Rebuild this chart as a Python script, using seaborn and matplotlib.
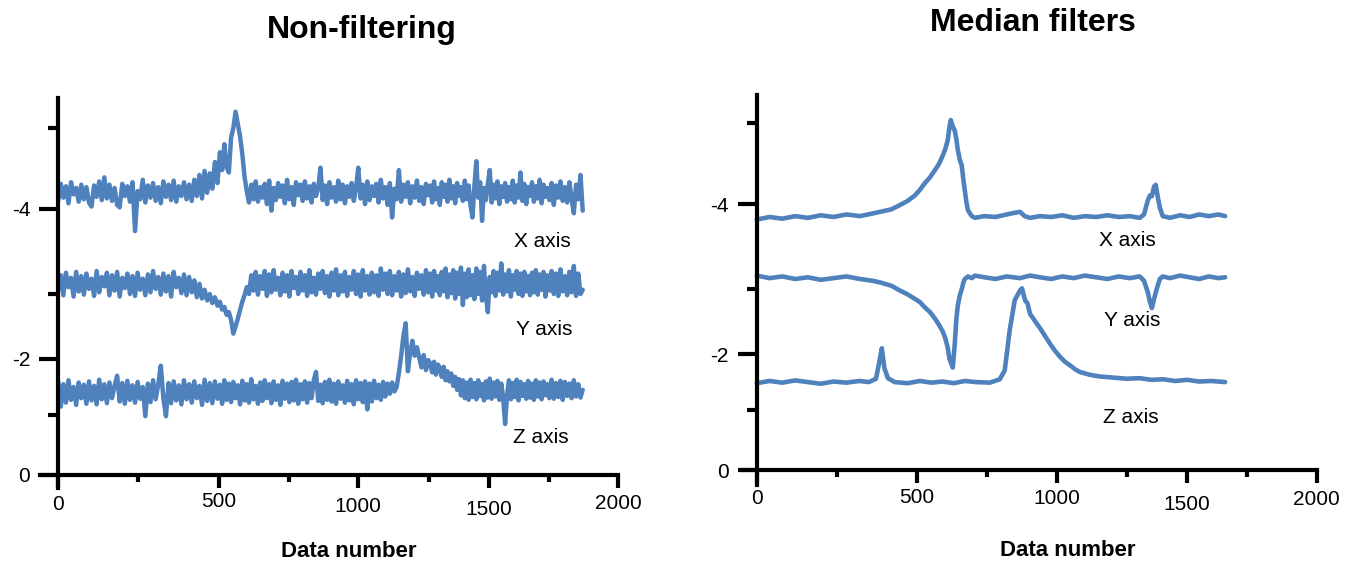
import numpy as np
import matplotlib
matplotlib.use("Agg")
import matplotlib.pyplot as plt
import matplotlib.transforms as mtransforms
import seaborn as sns

sns.set_style("ticks")
plt.rcParams['font.family'] = ['Liberation Sans', 'DejaVu Sans']
plt.rcParams.update({'text.color': 'black', 'axes.labelcolor': 'black',
                     'xtick.color': 'black', 'ytick.color': 'black',
                     'axes.edgecolor': 'black'})

BLUE = '#4F81BD'

# ---------------- Non-filtering: one sample every 8 data numbers
step_raw = 8
raw_x = [-4.10, -4.31, -4.14, -4.28, -4.07, -4.33, -4.18, -4.26, -4.09, -4.30,
         -4.12, -4.27, -4.08, -4.03, -4.29, -4.15, -4.34, -4.11, -4.39, -4.13,
         -4.30, -4.10, -4.26, -4.05, -4.02, -4.31, -4.16, -4.28, -4.09, -4.33,
         -3.74, -4.22, -4.12, -4.36, -4.08, -4.29, -4.14, -4.32, -4.10, -4.27,
         -4.07, -4.34, -4.15, -4.30, -4.11, -4.35, -4.09, -4.28, -4.16, -4.33,
         -4.12, -4.30, -4.10, -4.36, -4.16, -4.42, -4.13, -4.47, -4.20, -4.44,
         -4.25, -4.58, -4.32, -4.70, -4.48, -4.80, -4.52, -4.45, -4.88, -5.00,
         -5.20, -5.05, -4.90, -4.68, -4.40, -4.22, -4.08, -4.30, -4.12, -4.34,
         -4.09, -4.27, -4.14, -4.31, -4.06, -4.35, -3.98, -4.26, -4.11, -4.32,
         -4.15, -4.29, -4.07, -4.36, -4.12, -4.27, -4.05, -4.33, -4.17, -4.30,
         -4.10, -4.34, -4.13, -4.28, -4.08, -4.31, -4.16, -4.26, -4.51, -4.11,
         -4.29, -4.06, -4.33, -4.14, -4.27, -4.09, -4.35, -4.12, -4.30, -4.07,
         -4.28, -4.15, -4.32, -4.10, -4.26, -4.51, -4.13, -4.30, -4.06, -4.34,
         -4.11, -4.28, -4.16, -4.31, -4.08, -4.36, -4.13, -4.27, -4.05, -4.32,
         -3.90, -4.25, -4.12, -4.48, -4.09, -4.30, -4.15, -4.33, -4.07, -4.28,
         -4.14, -4.35, -4.10, -4.27, -4.06, -4.31, -4.17, -4.29, -4.08, -4.34,
         -4.12, -4.26, -4.05, -4.33, -4.15, -4.30, -4.09, -4.36, -4.13, -4.28,
         -4.07, -4.32, -4.16, -4.27, -4.10, -4.35, -4.12, -4.29, -4.04, -3.90,
         -4.28, -4.59, -4.14, -4.33, -3.86, -4.26, -4.11, -4.31, -4.48, -4.08,
         -4.30, -4.13, -4.34, -4.06, -4.28, -4.15, -4.32, -4.09, -4.27, -4.12,
         -4.35, -4.08, -4.29, -4.14, -4.45, -4.10, -4.31, -4.06, -4.27, -4.16,
         -4.33, -4.09, -4.28, -4.13, -4.36, -4.07, -4.30, -4.15, -4.26, -4.11,
         -4.32, -4.05, -4.29, -4.14, -4.34, -4.10, -4.27, -4.08, -4.33, -4.13,
         -3.95, -4.30, -4.12, -4.42, -3.98]
raw_y = [-3.05, -3.22, -2.98, -3.25, -3.08, -3.19, -2.96, -3.26, -3.03, -3.21,
         -2.99, -3.24, -3.06, -3.18, -2.97, -3.27, -3.02, -3.20, -3.09, -3.25,
         -2.98, -3.22, -3.04, -3.26, -2.96, -3.19, -3.07, -3.24, -3.00, -3.21,
         -2.97, -3.25, -3.05, -3.18, -2.98, -3.23, -3.02, -3.27, -3.06, -3.20,
         -2.99, -3.24, -3.03, -3.21, -2.96, -3.26, -3.08, -3.19, -3.01, -3.23,
         -2.98, -3.20, -3.02, -3.16, -2.95, -3.12, -2.93, -3.05, -2.90, -3.00,
         -2.86, -2.95, -2.82, -2.88, -2.76, -2.80, -2.68, -2.72, -2.60, -2.39,
         -2.50, -2.62, -2.75, -2.88, -2.98, -3.08, -3.00, -3.22, -3.04, -3.26,
         -2.99, -3.21, -3.06, -3.27, -2.97, -3.23, -3.02, -3.28, -3.05, -3.19,
         -2.98, -3.25, -3.03, -3.22, -2.96, -3.27, -3.07, -3.20, -3.00, -3.26,
         -3.04, -3.22, -2.97, -3.28, -3.02, -3.19, -2.99, -3.24, -3.06, -3.27,
         -3.01, -3.21, -2.96, -3.25, -3.04, -3.29, -2.98, -3.22, -3.03, -3.26,
         -2.97, -3.20, -3.05, -3.27, -3.00, -3.23, -2.96, -3.28, -3.04, -3.21,
         -2.99, -3.25, -3.02, -3.22, -2.97, -3.30, -3.05, -3.24, -3.00, -3.27,
         -2.98, -3.21, -3.04, -3.26, -2.96, -3.23, -3.01, -3.29, -3.03, -3.20,
         -2.97, -3.25, -3.06, -3.22, -2.99, -3.28, -3.02, -3.24, -2.96, -3.27,
         -3.04, -3.21, -2.98, -3.26, -3.03, -3.30, -2.95, -3.23, -3.01, -3.28,
         -2.93, -3.25, -3.00, -3.31, -2.83, -3.24, -2.95, -3.29, -2.98, -3.22,
         -2.92, -3.30, -3.00, -3.26, -2.90, -3.33, -2.96, -2.72, -3.20, -3.02,
         -3.27, -2.97, -3.25, -3.04, -3.36, -2.99, -3.23, -3.03, -3.28, -2.96,
         -3.22, -3.05, -3.27, -3.00, -3.24, -2.97, -3.26, -3.03, -3.21, -2.98,
         -3.25, -3.02, -3.28, -2.99, -3.23, -3.05, -3.26, -2.96, -3.22, -3.04,
         -3.27, -3.00, -3.24, -2.97, -3.29, -3.03, -3.21, -2.98, -3.26, -3.02,
         -3.33, -2.97, -3.24, -3.00, -3.05]
raw_z = [-1.60, -1.15, -1.55, -1.22, -1.62, -1.27, -1.50, -1.18, -1.58, -1.30,
         -1.54, -1.20, -1.60, -1.26, -1.52, -1.19, -1.63, -1.28, -1.55, -1.21,
         -1.58, -1.30, -1.52, -1.70, -1.24, -1.57, -1.20, -1.61, -1.27, -1.53,
         -1.22, -1.59, -1.29, -1.50, -0.98, -1.56, -1.23, -1.62, -1.28, -1.54,
         -1.88, -1.30, -0.98, -1.57, -1.21, -1.60, -1.26, -1.53, -1.19, -1.62,
         -1.28, -1.55, -1.22, -1.60, -1.30, -1.52, -1.18, -1.63, -1.25, -1.57,
         -1.21, -1.60, -1.29, -1.54, -1.20, -1.62, -1.27, -1.56, -1.23, -1.59,
         -1.30, -1.53, -1.19, -1.61, -1.26, -1.55, -1.22, -1.64, -1.28, -1.52,
         -1.20, -1.58, -1.25, -1.62, -1.30, -1.55, -1.21, -1.60, -1.27, -1.53,
         -1.18, -1.61, -1.29, -1.56, -1.23, -1.59, -1.26, -1.63, -1.20, -1.55,
         -1.28, -1.60, -1.22, -1.57, -1.30, -1.62, -1.77, -1.25, -1.54, -1.21,
         -1.59, -1.27, -1.63, -1.24, -1.56, -1.20, -1.60, -1.29, -1.53, -1.22,
         -1.61, -1.26, -1.55, -1.19, -1.62, -1.28, -1.57, -1.23, -1.60, -1.10,
         -1.56, -1.24, -1.61, -1.30, -1.54, -1.27, -1.59, -1.33, -1.56, -1.38,
         -1.58, -1.42, -1.50, -1.75, -2.05, -2.35, -2.55, -1.78, -2.10, -2.28,
         -2.05, -2.18, -2.02, -1.85, -2.06, -1.80, -1.98, -1.92, -1.76, -1.95,
         -1.72, -1.90, -1.84, -1.68, -1.86, -1.62, -1.78, -1.60, -1.74, -1.52,
         -1.68, -1.45, -1.64, -1.35, -1.62, -1.30, -1.58, -1.27, -1.63, -1.32,
         -1.57, -1.28, -1.62, -1.34, -1.55, -1.26, -1.60, -1.31, -1.65, -1.29,
         -1.58, -1.33, -1.61, -1.27, -1.56, -1.30, -0.85, -1.35, -1.62, -1.28,
         -1.57, -1.32, -1.63, -1.26, -1.59, -1.34, -1.55, -1.29, -1.61, -1.31,
         -1.56, -1.27, -1.62, -1.33, -1.58, -1.28, -1.60, -1.35, -1.55, -1.30,
         -1.63, -1.29, -1.57, -1.32, -1.61, -1.27, -1.59, -1.34, -1.56, -1.30,
         -1.62, -1.33, -1.55, -1.31, -1.45]
data_number_raw = np.arange(len(raw_x)) * step_raw

# ---------------- Median filters
med_x_n = [0, 40, 80, 120, 160, 200, 240, 280, 322, 360,
           384, 420, 446, 470, 493, 510, 527, 545, 563, 578,
           591, 600, 609, 615, 620, 627, 634, 640, 645, 652,
           659, 665, 670, 676, 681, 695, 706, 740, 780, 820,
           850, 868, 885, 904, 940, 980, 1020, 1060, 1100, 1140,
           1180, 1220, 1260, 1302, 1320, 1336, 1345, 1353, 1362, 1369,
           1378, 1386, 1398, 1428, 1470, 1510, 1550, 1590, 1630, 1658]
med_x = [-3.82, -3.85, -3.83, -3.86, -3.84, -3.87, -3.85, -3.88, -3.86, -3.89,
         -3.91, -3.94, -3.99, -4.04, -4.11, -4.18, -4.26, -4.33, -4.42, -4.50,
         -4.60, -4.68, -4.79, -4.95, -5.04, -4.96, -4.91, -4.80, -4.67, -4.55,
         -4.48, -4.30, -4.17, -4.02, -3.93, -3.86, -3.84, -3.86, -3.85, -3.88,
         -3.90, -3.91, -3.86, -3.84, -3.86, -3.85, -3.87, -3.84, -3.86, -3.85,
         -3.87, -3.85, -3.86, -3.84, -3.88, -4.05, -4.11, -4.10, -4.22, -4.24,
         -4.08, -3.96, -3.86, -3.84, -3.87, -3.85, -3.88, -3.86, -3.88, -3.86]
med_y_n = [0, 40, 80, 120, 160, 200, 240, 280, 322, 360,
           384, 420, 446, 470, 493, 510, 527, 545, 563, 578,
           591, 600, 609, 615, 620, 627, 634, 640, 645, 652,
           659, 665, 670, 681, 695, 706, 740, 780, 820, 868,
           904, 940, 980, 1020, 1060, 1100, 1140, 1180, 1220, 1260,
           1302, 1320, 1336, 1345, 1353, 1362, 1369, 1378, 1386, 1398,
           1428, 1470, 1510, 1550, 1590, 1630, 1658]
med_y = [-3.16, -3.13, -3.15, -3.12, -3.14, -3.11, -3.13, -3.15, -3.12, -3.10,
         -3.08, -3.04, -2.98, -2.92, -2.85, -2.80, -2.72, -2.65, -2.55, -2.45,
         -2.35, -2.25, -2.10, -1.92, -1.85, -1.76, -2.15, -2.55, -2.75, -2.90,
         -3.00, -3.08, -3.12, -3.15, -3.13, -3.16, -3.14, -3.12, -3.15, -3.13,
         -3.16, -3.14, -3.12, -3.15, -3.13, -3.16, -3.14, -3.12, -3.15, -3.13,
         -3.15, -3.10, -2.95, -2.80, -2.71, -2.85, -2.95, -3.05, -3.12, -3.15,
         -3.13, -3.16, -3.14, -3.12, -3.15, -3.13, -3.14]
med_z_n = [0, 40, 80, 120, 160, 200, 240, 280, 320,
           350, 372, 382, 390, 398, 409, 430, 470, 510, 550,
           590, 630, 670, 710, 759, 795, 813, 831, 849, 868,
           875, 886, 895, 904, 920, 940, 958, 976, 994, 1012,
           1030, 1047, 1065, 1082, 1118, 1153, 1200, 1250, 1302, 1350,
           1400, 1450, 1500, 1550, 1600, 1658]
med_z = [-1.48, -1.52, -1.49, -1.53, -1.50, -1.47, -1.51, -1.49, -1.52,
         -1.50, -1.56, -1.85, -2.09, -1.75, -1.57, -1.50, -1.48, -1.52, -1.49,
         -1.51, -1.48, -1.52, -1.50, -1.49, -1.55, -1.71, -2.37, -2.83, -2.98,
         -3.01, -2.83, -2.78, -2.62, -2.52, -2.40, -2.28, -2.16, -2.05, -1.95,
         -1.86, -1.80, -1.73, -1.68, -1.63, -1.60, -1.58, -1.56, -1.57, -1.54,
         -1.55, -1.52, -1.54, -1.51, -1.52, -1.50]

x_ticks = [0, 500, 1000, 1500, 2000]
x_minor = [250, 750, 1250, 1750]
y_ticks = [0, -2, -4]
y_minor = [-1, -3, -5]

# the original axes are not evenly spaced, so use a piecewise scale
x_knots = [-1000, 0, 250, 500, 750, 1000, 1250, 1500, 1750, 2000, 3000]
x_pos = [-320, 0, 80, 160.5, 230.5, 300, 370.5, 430.5, 490.5, 560, 838]
y_knots = [-8, -5, -4, -3, -2, -1, 0, 2]
y_pos = [-590, -347, -266, -181, -116, -60, 0, 120]


def fx(v):
    return np.interp(v, x_knots, x_pos)


def fx_inv(p):
    return np.interp(p, x_pos, x_knots)


def fy(v):
    return np.interp(v, y_knots, y_pos)


def fy_inv(p):
    return np.interp(p, y_pos, y_knots)


W, H = 1365, 570
fig = plt.figure(figsize=(W / 100, H / 100), dpi=100)


def add_axes(left, right, top, bottom):
    return fig.add_axes([left / W, 1 - bottom / H, (right - left) / W, (bottom - top) / H])


ax1 = add_axes(40, 618.3, 98, 488)
ax2 = add_axes(742, 1316.7, 95, 485)

for ys in (raw_x, raw_y, raw_z):
    sns.lineplot(x=data_number_raw, y=ys, ax=ax1, color=BLUE, linewidth=3.2,
                 estimator=None, sort=False)
for xs, ys in ((med_x_n, med_x), (med_y_n, med_y), (med_z_n, med_z)):
    sns.lineplot(x=xs, y=ys, ax=ax2, color=BLUE, linewidth=3.3,
                 estimator=None, sort=False)


def style(ax, xlim, ylim):
    ax.set_xscale('function', functions=(fx, fx_inv))
    ax.set_yscale('function', functions=(fy, fy_inv))
    ax.set_xlim(*xlim)
    ax.set_ylim(*ylim)
    ax.spines['left'].set_position(('data', 0))
    ax.spines['bottom'].set_position(('data', 0))
    ax.spines[['top', 'right']].set_visible(False)
    for s in ('left', 'bottom'):
        ax.spines[s].set_linewidth(3)
        ax.spines[s].set_color('black')
    ax.set_xticks(x_ticks)
    ax.set_xticklabels([str(t) for t in x_ticks])
    ax.set_xticks(x_minor, minor=True)
    ax.set_yticks(y_ticks)
    ax.set_yticklabels([str(t) for t in y_ticks])
    ax.set_yticks(y_minor, minor=True)
    ax.tick_params(axis='x', which='major', direction='out', length=9.4, width=3,
                   labelsize=15, pad=5)
    ax.tick_params(axis='x', which='minor', direction='out', length=5, width=3)
    ax.tick_params(axis='y', which='major', direction='out', length=13.7, width=3,
                   labelsize=15, pad=6.5)
    ax.tick_params(axis='y', which='minor', direction='out', length=7.5, width=3)
    ax.set_ylabel('')
    ax.set_xlabel('Data number', fontsize=16, fontweight='bold')
    ax.xaxis.label.set_verticalalignment('center')


style(ax1, (-57, 2000), (0.217, -5.37))
style(ax2, (-46, 2000), (0.25, -5.35))
ax1.xaxis.set_label_coords(0.534, -0.162)
ax2.xaxis.set_label_coords(0.567, -0.169)

ax1.set_title('Non-filtering', fontsize=23, fontweight='bold', x=0.557, y=1.175,
              va='center', pad=0)
ax2.set_title('Median filters', fontsize=23, fontweight='bold', x=0.506, y=1.185,
              va='center', pad=0)

label_kw = dict(fontsize=15, ha='center', va='center')
ax1.text(1725, -3.62, 'X axis', **label_kw)
ax1.text(1729, -2.45, 'Y axis', **label_kw)
ax1.text(1717, -0.62, 'Z axis', **label_kw)
ax2.text(1252, -3.57, 'X axis', **label_kw)
ax2.text(1270, -2.52, 'Y axis', **label_kw)
ax2.text(1266, -0.88, 'Z axis', **label_kw)

# the x tick labels of the original sit at slightly uneven heights (pixels)
label_shift = {ax1: [0, -3, 2, 5, -1], ax2: [-1, -2, -1, 5, 0]}
for ax, shifts in label_shift.items():
    for lab, dy in zip(ax.get_xticklabels(), shifts):
        off = mtransforms.ScaledTranslation(0, -dy / 100, fig.dpi_scale_trans)
        lab.set_transform(lab.get_transform() + off)

fig.savefig('out.png', dpi=100)
